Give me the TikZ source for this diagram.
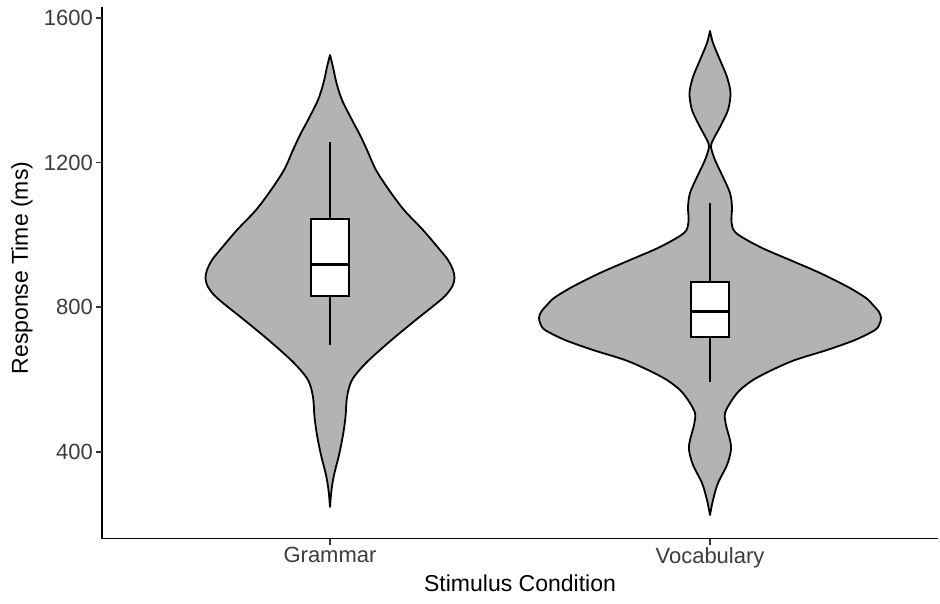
\documentclass[tikz,border=0pt]{standalone}
\usepackage{fontspec}
\setmainfont{Liberation Sans}
\definecolor{violinfill}{RGB}{179,179,179}
\definecolor{ticktext}{RGB}{60,60,60}
\tikzset{
  violinshape/.style={fill=violinfill, draw=black, line width=1.8pt, line join=round},
  boxshape/.style={fill=white, draw=black, line width=1.6pt},
  medianline/.style={draw=black, line width=3pt},
  whisker/.style={draw=black, line width=1.6pt},
  axisline/.style={draw=black, line width=1.8pt},
  tickmark/.style={draw=black!80, line width=1.5pt},
  ticklabel/.style={font=\fontsize{22}{24}\selectfont, text=ticktext, inner sep=0pt},
  axistitle/.style={font=\fontsize{23}{26}\selectfont, text=black, inner sep=0pt},
}
\newcommand\mkviolin[2]{%
  \gdef\rightlist{}\gdef\leftlist{}%
  \foreach \yy/\ww in {#2}{%
    \xdef\rightlist{\rightlist (#1+\ww,\yy)}%
    \xdef\leftlist{(#1-\ww,\yy) \leftlist}%
  }%
  \edef\violinact{\noexpand\filldraw[violinshape] plot[smooth,tension=0.5] coordinates {\rightlist} -- plot[smooth,tension=0.5] coordinates {\leftlist} -- cycle;}%
  \violinact
}
\begin{document}
\begin{tikzpicture}[x=1pt,y=-1pt]
\useasboundingbox (0,0) rectangle (940,604);
% Grammar violin
\mkviolin{330}{55/0, 67/3, 83/6.5, 100/12, 120/22, 135/30, 150/37, 170/46, 190/59, 210/74, 230/93, 250/110, 260/118, 270/123, 278/124.5, 286/122.5, 295/116, 303/107, 323/82, 343/58, 363/36, 380/22, 397/17, 417/15.5, 435/13, 455/9, 475/4, 490/1.5, 507/0}
% Vocabulary violin
\mkviolin{710}{31/0, 43/3, 60/10, 77/17, 93/20.5, 110/18, 127/10, 140/3, 147/1, 160/5, 177/13, 193/20, 207/22, 222/21.5, 233/26, 247/50, 260/80, 273/110, 287/138, 298/156, 305/163, 312/169, 318/171, 324/169.5, 330/165, 340/145, 350/117, 360/85, 370/62, 380/43, 390/30, 400/22, 413/15, 425/16, 440/20, 450/21, 465/17, 483/8, 500/3, 515/0}
% Grammar box
\draw[whisker] (330,142) -- (330,345);
\filldraw[boxshape] (311,219) rectangle (349,296);
\draw[medianline] (311,265) -- (349,265);
% Vocabulary box
\draw[whisker] (710,203) -- (710,382);
\filldraw[boxshape] (691,282) rectangle (729,337);
\draw[medianline] (691,311) -- (729,311);
% axes
\draw[axisline] (102,7) -- (102,538.5) -- (938,538.5);
\foreach \v/\n in {1600/a,1200/b,800/c,400/d}{
  \pgfmathsetmacro\yp{18+(1600-\v)*0.3615}
  \draw[tickmark] (96,\yp) -- (102,\yp);
  \node[ticklabel, anchor=east] (ytick\n) at (93,\yp) {\v};
}
\draw[tickmark] (330,538.5) -- (330,544.5);
\draw[tickmark] (710,538.5) -- (710,544.5);
\node[ticklabel, anchor=north] (gram) at (330,547) {Grammar};
\node[ticklabel, anchor=north] (voc) at (710,547) {Vocabulary};
\node[axistitle] (xtitle) at (520,583) {Stimulus Condition};
\node[axistitle, rotate=90] (ytitle) at (22,268) {Response Time (ms)};
\end{tikzpicture}
\end{document}
